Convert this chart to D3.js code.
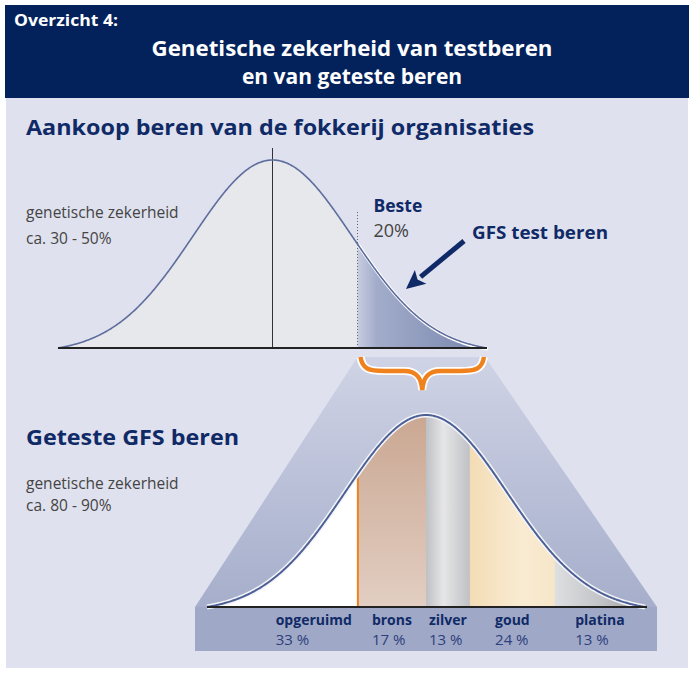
<!DOCTYPE html>
<html>
<head>
<meta charset="utf-8">
<script src="https://cdn.jsdelivr.net/npm/d3@7"></script>
<style>
  body { margin: 0; background: #fff; }
  text { font-family: "Open Sans", "Noto Sans", sans-serif; }
</style>
</head>
<body>
<div id="chart"></div>
<script>
// data
const headerLabel = "Overzicht 4:";
const titleLines = ["Genetische zekerheid van testberen", "en van geteste beren"];
const topTitle = "Aankoop beren van de fokkerij organisaties";
const bottomTitle = "Geteste GFS beren";
const topCertainty = ["genetische zekerheid", "ca. 30 - 50%"];
const bottomCertainty = ["genetische zekerheid", "ca. 80 - 90%"];
const bestLabel = "Beste";
const bestPercent = 20;
const bestCutoff = 1.07;            // start of the "Beste" tail, in SD units
const arrowLabel = "GFS test beren";
const segmentNames = ["opgeruimd", "brons", "zilver", "goud", "platina"];
const segmentPercents = [33, 17, 13, 24, 13];
const segmentBounds = [-2.7, -0.84, 0, 0.54, 1.59, 2.7];  // SD units
const tailLimit = 2.7;

let width = 694, height = 675;
const navy = "#0f2a66";

let svg = d3.select("#chart")
  .append("svg")
    .attr("width", width)
    .attr("height", height);

let defs = svg.append("defs");
function gradient(id, stops, vertical) {
  let g = defs.append("linearGradient").attr("id", id)
    .attr("x1", 0).attr("y1", 0)
    .attr("x2", vertical ? 0 : 1).attr("y2", vertical ? 1 : 0);
  stops.forEach(function(s) {
    g.append("stop").attr("offset", s[0]).attr("stop-color", s[1]);
  });
}
gradient("tailFill", [[0, "#c6cce0"], [0.15, "#a2acca"], [1, "#7785ad"]], false);
gradient("funnelFill", [[0, "#cfd3e5"], [1, "#a6aecb"]], true);
gradient("segFill0", [[0, "#ffffff"], [1, "#ffffff"]], false);
gradient("segFill1", [[0, "#caa792"], [1, "#e2cec2"]], true);
gradient("segFill2", [[0, "#bfc0c4"], [0.4, "#e6e6e8"], [1, "#c0c1c5"]], false);
gradient("segFill3", [[0, "#f3dcb5"], [0.6, "#f9ebd2"], [1, "#f6e6c9"]], false);
gradient("segFill4", [[0, "#dedfe1"], [0.5, "#c3c4c7"], [1, "#9d9ea3"]], false);

// normal curve that touches the baseline at +-tailLimit
const e0 = Math.exp(-tailLimit * tailLimit / 2);
function density(z) { return Math.max(0, (Math.exp(-z * z / 2) - e0) / (1 - e0)); }
function samples(a, b) {
  let pts = d3.range(a, b, 0.01);
  pts.push(b);
  return pts;
}

// panel and header
svg.append("rect").attr("x", 6).attr("y", 96).attr("width", 682).attr("height", 572).attr("fill", "#dfe1ee");
svg.append("rect").attr("x", 5).attr("y", 5).attr("width", 684).attr("height", 93).attr("fill", "#03225c");

function fit(sel, w) {
  let len = sel.node().getComputedTextLength();
  if (Math.abs(len - w) > 2) sel.attr("textLength", w).attr("lengthAdjust", "spacingAndGlyphs");
  return sel;
}

fit(svg.append("text").attr("x", 14).attr("y", 26).attr("fill", "#fff")
  .style("font-size", "16px").style("font-weight", "bold").text(headerLabel), 104);
titleLines.forEach(function(t, i) {
  let tx = svg.append("text").attr("x", 352).attr("y", 56 + i * 28).attr("text-anchor", "middle")
    .attr("fill", "#fff").style("font-size", "21px").style("font-weight", "bold").text(t);
  fit(tx, i === 0 ? 401 : 220);
});

fit(svg.append("text").attr("x", 26).attr("y", 135).attr("fill", navy)
  .style("font-size", "22px").style("font-weight", "bold").text(topTitle), 508);
fit(svg.append("text").attr("x", 26).attr("y", 445).attr("fill", navy)
  .style("font-size", "22px").style("font-weight", "bold").text(bottomTitle), 213);

topCertainty.forEach(function(t, i) {
  svg.append("text").attr("x", 26).attr("y", 218 + i * 26).attr("fill", "#444")
    .style("font-size", "15.5px").text(t);
});
bottomCertainty.forEach(function(t, i) {
  svg.append("text").attr("x", 26).attr("y", 489 + i * 22).attr("fill", "#444")
    .style("font-size", "15.5px").text(t);
});

// scales
let xTop = d3.scaleLinear().domain([-tailLimit, tailLimit]).range([58, 487]);
let yTop = d3.scaleLinear().domain([0, 1]).range([348, 160]);
let xBot = d3.scaleLinear().domain([-tailLimit, tailLimit]).range([207, 645]);
let yBot = d3.scaleLinear().domain([0, 1]).range([607, 415]);

// funnel between the two curves
let funnel = [
  [xTop(bestCutoff), 357], [xTop(tailLimit) - 2, 357],
  [xBot(tailLimit) + 12, yBot(0)], [xBot(-tailLimit) - 12, yBot(0)]
];
svg.append("path").attr("d", "M" + funnel.join("L") + "Z").attr("fill", "url(#funnelFill)");
svg.append("rect").attr("x", xBot(-tailLimit) - 12).attr("y", yBot(0))
  .attr("width", xBot(tailLimit) - xBot(-tailLimit) + 24).attr("height", 44).attr("fill", "#a0a8c7");

// top curve
let areaTop = d3.area().x(function(d) { return xTop(d); }).y0(yTop(0)).y1(function(d) { return yTop(density(d)); });
let lineTop = d3.line().x(function(d) { return xTop(d); }).y(function(d) { return yTop(density(d)); });
svg.append("path").attr("d", areaTop(samples(-tailLimit, tailLimit))).attr("fill", "#e7e8ec");
svg.append("path").attr("d", areaTop(samples(bestCutoff, tailLimit))).attr("fill", "url(#tailFill)");
svg.append("line").attr("x1", xTop(0)).attr("x2", xTop(0)).attr("y1", yTop(1) - 12).attr("y2", yTop(0))
  .attr("stroke", "#333").attr("stroke-width", 1);
svg.append("line").attr("x1", xTop(bestCutoff)).attr("x2", xTop(bestCutoff)).attr("y1", 212).attr("y2", yTop(0))
  .attr("stroke", "#666").attr("stroke-width", 1).attr("stroke-dasharray", "1,2");
svg.append("path").attr("d", lineTop(samples(bestCutoff, tailLimit)))
  .attr("fill", "none").attr("stroke", "#fff").attr("stroke-width", 3.5).attr("transform", "translate(0.8,0.8)");
svg.append("path").attr("d", lineTop(samples(-tailLimit, tailLimit)))
  .attr("fill", "none").attr("stroke", "#5e6d9d").attr("stroke-width", 1.6);
svg.append("line").attr("x1", xTop(-tailLimit)).attr("x2", xTop(tailLimit)).attr("y1", yTop(0)).attr("y2", yTop(0))
  .attr("stroke", "#222").attr("stroke-width", 2);

// Beste label and arrow
svg.append("text").attr("x", xTop(bestCutoff) + 16).attr("y", 212).attr("fill", navy)
  .style("font-size", "17.5px").style("font-weight", "bold").text(bestLabel);
svg.append("text").attr("x", xTop(bestCutoff) + 16).attr("y", 237).attr("fill", "#444")
  .style("font-size", "18px").text(bestPercent + "%");
fit(svg.append("text").attr("x", 472).attr("y", 239).attr("fill", navy)
  .style("font-size", "17px").style("font-weight", "bold").text(arrowLabel), 136);

let tip = [xTop(1.68), yTop(density(1.68)) - 17], tail = [464, 241];
let ang = Math.atan2(tip[1] - tail[1], tip[0] - tail[0]);
let hl = 19, hw = 9;
let base = [tip[0] - hl * Math.cos(ang), tip[1] - hl * Math.sin(ang)];
svg.append("line").attr("x1", tail[0]).attr("y1", tail[1]).attr("x2", base[0]).attr("y2", base[1])
  .attr("stroke", navy).attr("stroke-width", 5);
svg.append("path").attr("fill", navy).attr("d",
  "M" + tip + "L" + [base[0] + hw * Math.sin(ang), base[1] - hw * Math.cos(ang)] +
  "L" + [base[0] + 4 * Math.cos(ang), base[1] + 4 * Math.sin(ang)] +
  "L" + [base[0] - hw * Math.sin(ang), base[1] + hw * Math.cos(ang)] + "Z");

// orange brace under the best tail
let bl = xTop(bestCutoff) + 3, br = xTop(tailLimit) - 3, bm = (bl + br) / 2, by = 357;
let brace = "M" + bl + "," + by +
  " C" + (bl + 2) + "," + (by + 12) + " " + (bl + 8) + "," + (by + 14) + " " + (bl + 24) + "," + (by + 14) +
  " L" + (bm - 18) + "," + (by + 14) +
  " C" + (bm - 6) + "," + (by + 14) + " " + (bm - 1) + "," + (by + 20) + " " + bm + "," + (by + 33) +
  " C" + (bm + 1) + "," + (by + 20) + " " + (bm + 6) + "," + (by + 14) + " " + (bm + 18) + "," + (by + 14) +
  " L" + (br - 24) + "," + (by + 14) +
  " C" + (br - 8) + "," + (by + 14) + " " + (br - 2) + "," + (by + 12) + " " + br + "," + by;
svg.append("path").attr("d", brace).attr("fill", "none").attr("stroke", "#fff").attr("stroke-width", 8);
svg.append("path").attr("d", brace).attr("fill", "none").attr("stroke", "#f0821e").attr("stroke-width", 4.5);

// bottom curve segments
let areaBot = d3.area().x(function(d) { return xBot(d); }).y0(yBot(0)).y1(function(d) { return yBot(density(d)); });
let lineBot = d3.line().x(function(d) { return xBot(d); }).y(function(d) { return yBot(density(d)); });
svg.append("g").selectAll("path")
  .data(segmentNames)
  .enter()
  .append("path")
    .attr("d", function(d, i) { return areaBot(samples(segmentBounds[i], segmentBounds[i + 1])); })
    .attr("fill", function(d, i) { return "url(#segFill" + i + ")"; });
svg.append("line").attr("x1", xBot(segmentBounds[1])).attr("x2", xBot(segmentBounds[1]))
  .attr("y1", yBot(density(segmentBounds[1]))).attr("y2", yBot(0))
  .attr("stroke", "#f0821e").attr("stroke-width", 2);
svg.append("path").attr("d", lineBot(samples(-tailLimit, tailLimit)))
  .attr("fill", "none").attr("stroke", "#f4f5fa").attr("stroke-width", 5);
svg.append("path").attr("d", lineBot(samples(-tailLimit, tailLimit)))
  .attr("fill", "none").attr("stroke", "#4e6196").attr("stroke-width", 2);
svg.append("line").attr("x1", xBot(-tailLimit)).attr("x2", xBot(tailLimit) + 2).attr("y1", yBot(0)).attr("y2", yBot(0))
  .attr("stroke", "#222").attr("stroke-width", 2);

// segment labels
let labels = svg.append("g").selectAll("g")
  .data(segmentNames)
  .enter()
  .append("g");
labels.append("text")
  .attr("y", 625).attr("fill", navy)
  .style("font-size", "14px").style("font-weight", "bold")
  .text(function(d) { return d; });
labels.append("text")
  .attr("y", 645).attr("fill", "#2d3f7c")
  .style("font-size", "15px")
  .text(function(d, i) { return segmentPercents[i] + " %"; });
labels.each(function(d, i) {
  let g = d3.select(this);
  let w = g.select("text").node().getComputedTextLength();
  let left = xBot(segmentBounds[i]), right = xBot(segmentBounds[i + 1]);
  let cx = i === 0 ? right - 6 - w / 2 : (left + right) / 2;
  g.selectAll("text").attr("x", cx - w / 2);
});
</script>
</body>
</html>
